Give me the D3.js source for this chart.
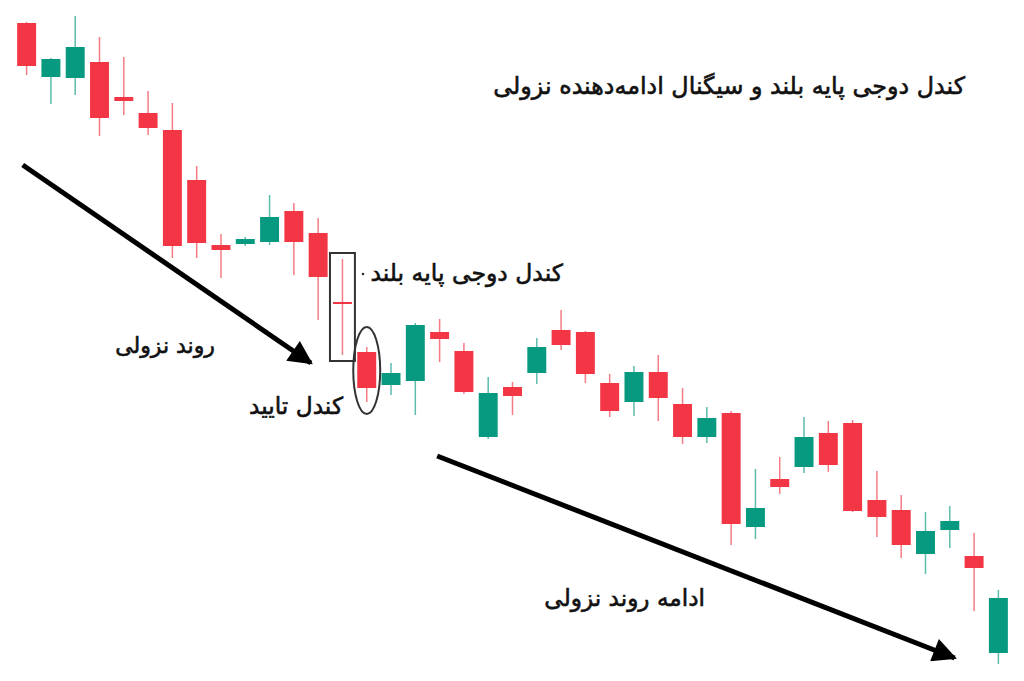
<!DOCTYPE html>
<html>
<head>
<meta charset="utf-8">
<script src="https://cdn.jsdelivr.net/npm/d3@7"></script>
<style>
  html, body { margin: 0; padding: 0; background: #fff; }
  text { font-family: "DejaVu Sans", sans-serif; fill: #111; stroke: #111; stroke-width: 0.6; }
</style>
</head>
<body>
<div id="chart"></div>
<script>
// candle values (price units)
const opens  = [677, 623, 622, 638, 603, 587, 570, 520, 455, 456, 458, 489, 467, 398, 348, 315, 319, 368, 349, 263, 313,
                327, 370, 368, 317, 298, 328, 296, 263, 287, 173, 221, 233, 267, 277, 200, 190, 146, 170, 144, 47]
const closes = [634, 641, 653, 582, 599, 572, 454, 457, 450, 461, 483, 458, 423, 396, 312, 327, 375, 361, 308, 307, 304,
                353, 355, 326, 289, 328, 302, 263, 282, 176, 192, 213, 263, 235, 189, 183, 155, 169, 179, 132, 102]
const highs  = [678, 642, 684, 663, 643, 609, 597, 534, 466, 463, 505, 497, 482, 441, 353, 337, 377, 381, 357, 323, 318,
                362, 390, 369, 326, 334, 345, 312, 293, 289, 231, 243, 283, 279, 280, 229, 205, 188, 194, 167, 110]
const lows   = [625, 596, 605, 564, 585, 565, 442, 442, 422, 454, 455, 425, 380, 345, 298, 305, 285, 338, 306, 261, 285,
                316, 350, 317, 283, 284, 279, 256, 257, 155, 161, 206, 227, 228, 188, 163, 142, 126, 152, 89, 36]

const dojiIndex = 13
const confirmIndex = 14

// trend arrows in data units: [index, price]
const trendArrow1 = [[-0.16, 535], [11.7, 337]]
const trendArrow2 = [[16.9, 244], [38.2, 42]]

const title = 'کندل دوجی پایه بلند و سیگنال ادامه‌دهنده نزولی'
const labelDoji = 'کندل دوجی پایه بلند'
const labelTrend = 'روند نزولی'
const labelConfirm = 'کندل تایید'
const labelContinue = 'ادامه روند نزولی'

const width = 1024, height = 681
const red = '#F23645', green = '#089981'

const candles = opens.map((o, i) => ({ i: i, o: o, c: closes[i], h: highs[i], l: lows[i] }))

const svg = d3.select('#chart').append('svg')
    .attr('width', width)
    .attr('height', height)

const x = d3.scaleBand()
    .domain(d3.range(candles.length))
    .range([11.8, 1013.2])
    .padding(0.22)

const xc = i => x.step() * i + x(0) + x.bandwidth() / 2

const y = d3.scaleLinear()
    .domain([19, 700])
    .range([height, 0])

const g = svg.append('g')

// wicks
g.selectAll('.wick')
    .data(candles)
    .join('line')
    .attr('class', 'wick')
    .attr('x1', d => xc(d.i))
    .attr('x2', d => xc(d.i))
    .attr('y1', d => y(d.h))
    .attr('y2', d => y(d.l))
    .attr('stroke', d => d.c >= d.o ? green : red)
    .attr('stroke-width', 1.5)
    .attr('opacity', 0.65)

// bodies
g.selectAll('.body')
    .data(candles)
    .join('rect')
    .attr('class', 'body')
    .attr('x', d => x(d.i))
    .attr('width', x.bandwidth())
    .attr('y', d => y(Math.max(d.o, d.c)))
    .attr('height', d => Math.max(1.5, Math.abs(y(d.o) - y(d.c))))
    .attr('fill', d => d.c >= d.o ? green : red)

// box around doji
const dj = candles[dojiIndex]
svg.append('rect')
    .attr('x', x(dj.i) - 3)
    .attr('width', x.bandwidth() + 6)
    .attr('y', y(dj.h) - 6)
    .attr('height', y(dj.l) - y(dj.h) + 12)
    .attr('fill', 'none')
    .attr('stroke', '#333')
    .attr('stroke-width', 2)

// ellipse around confirmation candle
const cf = candles[confirmIndex]
svg.append('ellipse')
    .attr('cx', xc(cf.i))
    .attr('cy', (y(cf.h) + y(cf.l)) / 2 - 4)
    .attr('rx', x.bandwidth() / 2 + 4)
    .attr('ry', (y(cf.l) - y(cf.h)) / 2 + 16)
    .attr('fill', 'none')
    .attr('stroke', '#333')
    .attr('stroke-width', 2)

// arrows
svg.append('defs').append('marker')
    .attr('id', 'head')
    .attr('viewBox', '0 0 10 10')
    .attr('refX', 9)
    .attr('refY', 5)
    .attr('markerUnits', 'userSpaceOnUse')
    .attr('markerWidth', 30)
    .attr('markerHeight', 24)
    .attr('orient', 'auto')
    .append('path')
    .attr('d', 'M0,0 L10,5 L0,10 Z')
    .attr('fill', '#000')

const ax = i => xc(0) + x.step() * i

;[trendArrow1, trendArrow2].forEach(a => {
    svg.append('line')
        .attr('x1', ax(a[0][0]))
        .attr('y1', y(a[0][1]))
        .attr('x2', ax(a[1][0]))
        .attr('y2', y(a[1][1]))
        .attr('stroke', '#000')
        .attr('stroke-width', 5)
        .attr('marker-end', 'url(#head)')
})

// texts
function label(txt, xr, yy, size) {
    return svg.append('text')
        .text(txt)
        .attr('x', xr)
        .attr('y', yy)
        .attr('direction', 'rtl')
        .attr('text-anchor', 'start')
        .attr('font-size', size)
}

label(title, 965, 94, 23.8)
label(labelDoji, 563, 281, 23.5)
label(labelTrend, 215, 353, 22)
label(labelConfirm, 343, 414, 23.3)
label(labelContinue, 705, 606, 23.2)

svg.append('circle')
    .attr('cx', 363)
    .attr('cy', 274)
    .attr('r', 1.3)
    .attr('fill', '#333')
</script>
</body>
</html>
